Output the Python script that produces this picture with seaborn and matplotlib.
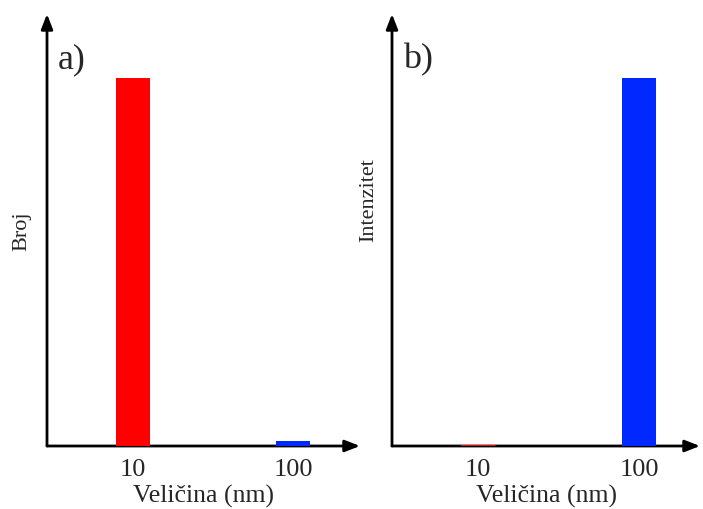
import pandas as pd
import matplotlib
matplotlib.use('Agg')
import matplotlib.pyplot as plt
import seaborn as sns

# podaci (normirano na 100)
velicine = ['10', '100']
broj = [100, 1.4]
intenzitet = [0.4, 100]
boje = {'10': '#ff0000', '100': '#0028ff'}

sns.set_style('white')
plt.rcParams['font.family'] = ['Liberation Serif', 'DejaVu Serif']

fig = plt.figure(figsize=(7.03, 5.09), dpi=100)

W, H = 703, 509


def panel(left_px, right_px, vrijednosti, ylabel, oznaka, xlim, ylab_xy):
    ax = fig.add_axes([left_px / W, 63 / H, (right_px - left_px) / W, 432 / H])
    df = pd.DataFrame({'velicina': velicine, 'vrijednost': vrijednosti})
    sns.barplot(data=df, x='velicina', y='vrijednost', hue='velicina',
                palette=boje, width=0.212, legend=False, ax=ax,
                saturation=1, linewidth=0, zorder=2)
    ax.set_xlim(*xlim)
    ax.set_ylim(0, 117.4)
    for s in ax.spines.values():
        s.set_visible(False)
    ax.set_yticks([])
    ax.tick_params(axis='x', length=0, labelsize=19, pad=9)
    ax.set_xlabel('Veličina (nm)', fontsize=18.5, labelpad=3)
    ax.set_ylabel('')
    fig.text(ylab_xy[0] / W, 1 - ylab_xy[1] / H, ylabel, rotation=90,
             fontsize=16, ha='center', va='center')
    # strelice za osi (ispod stupaca)
    stil = dict(arrowstyle='-|>,head_length=0.9,head_width=0.35',
                lw=2, color='black', shrinkA=0, shrinkB=0)
    ax.annotate('', xy=(1, 0), xytext=(0, 0), xycoords='axes fraction',
                arrowprops=stil, zorder=1)
    ax.annotate('', xy=(0, 1), xytext=(0, 0), xycoords='axes fraction',
                arrowprops=stil, zorder=1)
    ax.text(0.035, 0.895, oznaka, transform=ax.transAxes, fontsize=26,
            ha='left', va='center')
    return ax


panel(47, 360, broj, 'Broj', 'a)', (-0.5375, 1.419), (22, 231))
panel(392, 700, intenzitet, 'Intenzitet', 'b)', (-0.534, 1.379), (369, 200))

fig.savefig('out.png', dpi=100)
